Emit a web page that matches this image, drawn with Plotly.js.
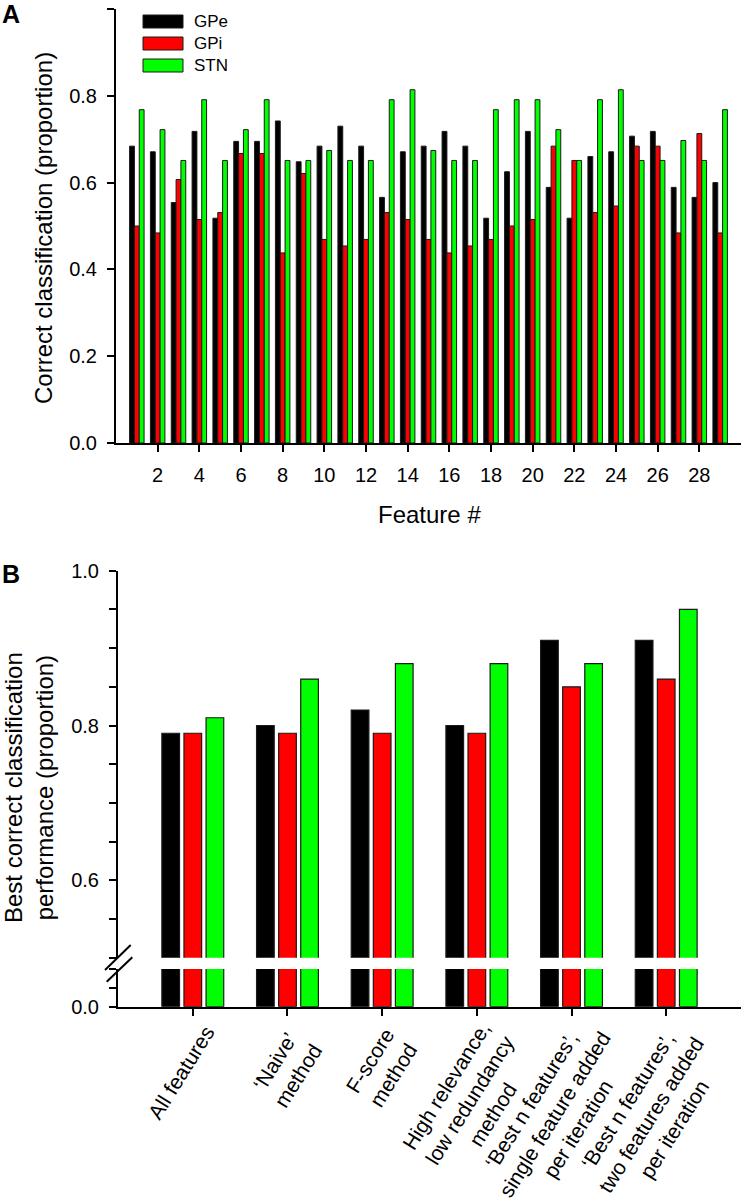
<!DOCTYPE html>
<html>
<head>
<meta charset="utf-8">
<script src="https://cdn.plot.ly/plotly-3.0.1.min.js"></script>
<style>
  html, body { margin: 0; padding: 0; background: #ffffff; }
  #chart { width: 742px; height: 1200px; }
</style>
</head>
<body>
<div id="chart"></div>
<script>
// ---------- Panel A data ----------
const features = [1,2,3,4,5,6,7,8,9,10,11,12,13,14,15,16,17,18,19,20,21,22,23,24,25,26,27,28,29];
const featureTicks = [2,4,6,8,10,12,14,16,18,20,22,24,26,28];
const gpeA = [0.684,0.671,0.554,0.718,0.518,0.695,0.695,0.742,0.648,0.684,0.730,0.684,0.566,0.671,0.684,0.718,0.684,0.518,0.625,0.718,0.589,0.518,0.660,0.671,0.707,0.718,0.589,0.566,0.600];
const gpiA = [0.500,0.484,0.607,0.515,0.531,0.667,0.667,0.438,0.621,0.469,0.454,0.469,0.531,0.515,0.469,0.438,0.454,0.469,0.500,0.515,0.684,0.651,0.531,0.546,0.684,0.684,0.484,0.713,0.484];
const stnA = [0.768,0.722,0.651,0.791,0.651,0.722,0.791,0.651,0.651,0.674,0.651,0.651,0.791,0.814,0.674,0.651,0.651,0.768,0.791,0.791,0.722,0.651,0.791,0.814,0.651,0.651,0.697,0.651,0.768];
const ticksA = [0, 0.2, 0.4, 0.6, 0.8, 1.0];
const tickTextA = ['0.0','0.2','0.4','0.6','0.8','1.0'];

// ---------- Panel B data ----------
const methods = [
  'All features',
  '\u2018Naive\u2019<br>method',
  'F-score<br>method',
  'High relevance,<br>low redundancy<br>method',
  '\u2018Best n features\u2019,<br>single feature added<br>per iteration',
  '\u2018Best n features\u2019,<br>two features added<br>per iteration'
];
const gpeB = [0.79, 0.80, 0.82, 0.80, 0.91, 0.91];
const gpiB = [0.79, 0.79, 0.79, 0.79, 0.85, 0.86];
const stnB = [0.81, 0.86, 0.88, 0.88, 0.88, 0.95];
const ticksBUpper = [0.5, 0.55, 0.6, 0.65, 0.7, 0.75, 0.8, 0.85, 0.9, 0.95, 1.0];
const tickTextBUpper = ['', '', '0.6', '', '', '', '0.8', '', '', '', '1.0'];
const ticksBLower = [0, 0.025, 0.05];
const tickTextBLower = ['0.0', '', ''];

const groupNames = ['GPe', 'GPi', 'STN'];
const colors = ['#000000', '#ff0000', '#00ff00'];

// ---------- styling helpers ----------
const FONT = 'Liberation Sans, Arial, Helvetica, sans-serif';
const W = 742, H = 1200;
const px = x => x / W;
const py = y => 1 - y / H;
const outline = {color: '#1a1a1a', width: 1};

const aWidth = 0.232;
const aOffsets = [-0.348, -0.116, 0.116];
const seriesA = [gpeA, gpiA, stnA];
const seriesB = [gpeB, gpiB, stnB];

// placement of the rotated category labels of panel B (centre of each text block)
const labelShiftX = [-12, -1, -1, -7, -17, -15];
const labelCenterY = [1072, 1068, 1068, 1100, 1115, 1115];

const traces = [];
seriesA.forEach((vals, i) => {
  traces.push({
    type: 'bar', x: features, y: vals, name: groupNames[i],
    xaxis: 'x', yaxis: 'y',
    width: aWidth, offset: aOffsets[i],
    marker: {color: colors[i], line: outline},
    showlegend: false, hoverinfo: 'skip'
  });
});
['y2', 'y3'].forEach((ya, k) => {
  seriesB.forEach((vals, i) => {
    traces.push({
      type: 'bar', x: methods, y: vals, name: groupNames[i],
      xaxis: k === 0 ? 'x2' : 'x3', yaxis: ya,
      marker: {color: colors[i], line: {color: '#1a1a1a', width: 1.2}},
      showlegend: false, hoverinfo: 'skip'
    });
  });
});

const axisCommon = {
  showline: true, linecolor: '#000', linewidth: 2,
  ticks: 'outside', ticklen: 7, tickwidth: 2, tickcolor: '#000',
  showgrid: false, zeroline: false, fixedrange: true,
  tickfont: {family: FONT, size: 20, color: '#000'}
};

const domA_x = [px(116), px(741)];
const domB_x = [px(118), px(741)];

const annotations = [
  {text: groupNames[0], xref: 'paper', yref: 'paper', x: px(192), y: py(21.5), xanchor: 'left', yanchor: 'middle', showarrow: false, font: {family: FONT, size: 17}},
  {text: groupNames[1], xref: 'paper', yref: 'paper', x: px(192), y: py(43.5), xanchor: 'left', yanchor: 'middle', showarrow: false, font: {family: FONT, size: 17}},
  {text: groupNames[2], xref: 'paper', yref: 'paper', x: px(192), y: py(65.5), xanchor: 'left', yanchor: 'middle', showarrow: false, font: {family: FONT, size: 17}},
  {text: 'Correct classification (proportion)', xref: 'paper', yref: 'paper', x: px(44), y: py(228), xanchor: 'center', yanchor: 'middle', textangle: -90, showarrow: false, font: {family: FONT, size: 24}},
  {text: 'Feature #', xref: 'paper', yref: 'paper', x: px(429), y: py(514), xanchor: 'center', yanchor: 'middle', showarrow: false, font: {family: FONT, size: 24}},
  {text: 'Best correct classification<br>performance (proportion)', xref: 'paper', yref: 'paper', x: px(29), y: py(788), xanchor: 'center', yanchor: 'middle', textangle: -90, showarrow: false, font: {family: FONT, size: 24}},
  {text: '<b>A</b>', xref: 'paper', yref: 'paper', x: px(1), y: py(14), xanchor: 'left', yanchor: 'middle', showarrow: false, borderpad: 0, font: {family: FONT, size: 25}},
  {text: '<b>B</b>', xref: 'paper', yref: 'paper', x: px(1), y: py(574), xanchor: 'left', yanchor: 'middle', showarrow: false, borderpad: 0, font: {family: FONT, size: 25}}
];
methods.forEach((m, i) => {
  annotations.push({
    text: m, xref: 'x3', yref: 'paper', x: i, y: py(labelCenterY[i]),
    xshift: labelShiftX[i], xanchor: 'center', yanchor: 'middle', align: 'center',
    textangle: -58, showarrow: false, borderpad: 0,
    font: {family: FONT, size: 21, color: '#000'}
  });
});

const layout = {
  width: W, height: H,
  margin: {l: 0, r: 0, t: 0, b: 0},
  paper_bgcolor: '#ffffff', plot_bgcolor: 'rgba(0,0,0,0)',
  barmode: 'group', bargap: 0.3, bargroupgap: 0.2,
  showlegend: false,
  font: {family: FONT, color: '#000'},
  xaxis: Object.assign({}, axisCommon, {
    domain: domA_x, anchor: 'y', range: [0, 30],
    tickmode: 'array', tickvals: featureTicks, ticktext: featureTicks.map(String),
    ticklabelstandoff: 6
  }),
  yaxis: Object.assign({}, axisCommon, {
    domain: [py(443), py(9)], anchor: 'x', range: [0, 1],
    tickmode: 'array', tickvals: ticksA, ticktext: tickTextA,
    ticklabelstandoff: 6
  }),
  xaxis2: {
    domain: domB_x, anchor: 'y2', type: 'category', range: [-0.79, 5.79],
    visible: false, fixedrange: true
  },
  yaxis2: Object.assign({}, axisCommon, {
    domain: [py(957.7), py(570.7)], anchor: 'x2', range: [0.5, 1.0],
    tickmode: 'array', tickvals: ticksBUpper, ticktext: tickTextBUpper,
    ticklabelstandoff: 6
  }),
  xaxis3: Object.assign({}, axisCommon, {
    domain: domB_x, anchor: 'y3', type: 'category', range: [-0.79, 5.79],
    showticklabels: false
  }),
  yaxis3: Object.assign({}, axisCommon, {
    domain: [py(1006.7), py(969)], anchor: 'x3', range: [0, 0.05],
    tickmode: 'array', tickvals: ticksBLower, ticktext: tickTextBLower,
    ticklabelstandoff: 6
  }),
  shapes: [
    // axis break marks
    {type: 'line', xref: 'paper', yref: 'paper', x0: px(105), y0: py(970), x1: px(130.7), y1: py(945), line: {color: '#000', width: 2}},
    {type: 'line', xref: 'paper', yref: 'paper', x0: px(106.7), y0: py(981.7), x1: px(132.3), y1: py(957.3), line: {color: '#000', width: 2}},
    // legend swatches
    {type: 'rect', xref: 'paper', yref: 'paper', x0: px(143), x1: px(183), y0: py(28), y1: py(15), fillcolor: colors[0], line: {color: '#1a1a1a', width: 1}},
    {type: 'rect', xref: 'paper', yref: 'paper', x0: px(143), x1: px(183), y0: py(50), y1: py(37), fillcolor: colors[1], line: {color: '#1a1a1a', width: 1}},
    {type: 'rect', xref: 'paper', yref: 'paper', x0: px(143), x1: px(183), y0: py(72), y1: py(59), fillcolor: colors[2], line: {color: '#1a1a1a', width: 1}}
  ],
  annotations: annotations
};

Plotly.newPlot('chart', traces, layout, {staticPlot: true, displayModeBar: false});
</script>
</body>
</html>
